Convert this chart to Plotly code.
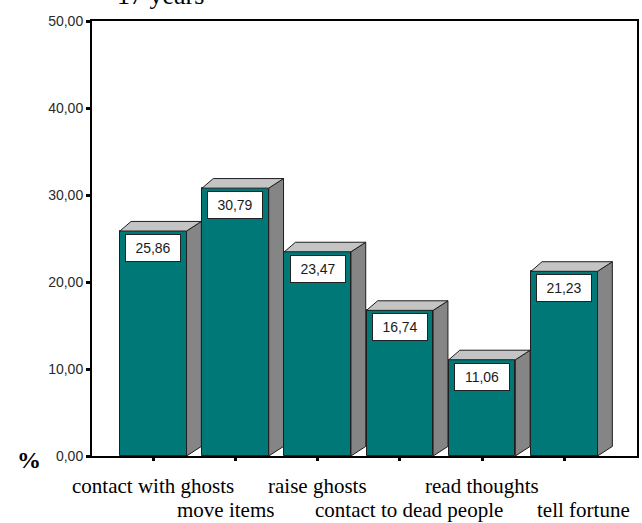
import plotly.graph_objects as go

# Data
categories = ["contact with ghosts", "move items", "raise ghosts",
              "contact to dead people", "read thoughts", "tell fortune"]
percent = [25.86, 30.79, 23.47, 16.74, 11.06, 21.23]
y_tick_vals = [0, 10, 20, 30, 40, 50]
y_tick_text = ["0,00", "10,00", "20,00", "30,00", "40,00", "50,00"]
title_text = "17 years"
unit_text = "%"

# Styling
TEAL = "#007878"
SIDE = "#858585"
TOP = "#c4c4c4"
EDGE = "#1e1e1e"
BAR_W = 0.81      # front face width (category units)
DX_R = 0.18       # depth offset of the right edge
DX_L = 0.135      # depth offset of the left edge
DY = 1.1          # depth rise (value units)
label_shift = [0, -10, 0, 9, 0, 19]   # pixel nudges for the category labels
label_row = [0, 1, 0, 1, 0, 1]

W, H = 642, 523
ML, MR, MT, MB = 92, 3, 21, 67
PW, PH = W - ML - MR, H - MT - MB


def px_to_paper_x(px):
    return (px - ML) / PW


def px_to_paper_y(py):
    return (H - MB - py) / PH


xs = list(range(len(categories)))

# 3D side and top faces computed from the bar values
side_x, side_y, top_x, top_y = [], [], [], []
for i, v in zip(xs, percent):
    xl, xr = i - BAR_W / 2, i + BAR_W / 2
    side_x += [xr, xr, xr + DX_R, xr + DX_R, xr, None]
    side_y += [0, v, v + DY, DY, 0, None]
    top_x += [xl, xl + DX_L, xr + DX_R, xr, xl, None]
    top_y += [v, v + DY, v + DY, v, v, None]

fig = go.Figure()
fig.add_trace(go.Scatter(x=side_x, y=side_y, mode="lines", fill="toself",
                         fillcolor=SIDE, line=dict(color=EDGE, width=1),
                         hoverinfo="skip", showlegend=False))
fig.add_trace(go.Scatter(x=top_x, y=top_y, mode="lines", fill="toself",
                         fillcolor=TOP, line=dict(color=EDGE, width=1),
                         hoverinfo="skip", showlegend=False))
fig.add_trace(go.Bar(x=xs, y=percent, width=BAR_W,
                     marker=dict(color=TEAL, line=dict(color=EDGE, width=1)),
                     showlegend=False, hovertext=categories))

annotations = []
# value boxes
for i, v in zip(xs, percent):
    annotations.append(dict(
        x=i, y=v, xref="x", yref="y", yanchor="top", yshift=-3,
        text=f"{v:.2f}".replace(".", ","), showarrow=False,
        font=dict(family="Liberation Sans, Arial", size=14, color="#1a1a1a"),
        bgcolor="white", bordercolor="#222", borderwidth=1, borderpad=5,
        width=44))

# staggered category labels
row_y = [px_to_paper_y(486), px_to_paper_y(510)]
for i, (cat, r, s) in enumerate(zip(categories, label_row, label_shift)):
    annotations.append(dict(
        x=i, y=row_y[r], xref="x", yref="paper", yanchor="middle",
        xanchor="center", xshift=s, text=cat, showarrow=False,
        font=dict(family="Liberation Serif, Times New Roman", size=21,
                  color="black")))

annotations.append(dict(
    x=px_to_paper_x(29), y=px_to_paper_y(460), xref="paper", yref="paper",
    xanchor="center", yanchor="middle", text=f"<b>{unit_text}</b>",
    showarrow=False,
    font=dict(family="Liberation Serif, Times New Roman", size=24,
              color="black")))

annotations.append(dict(
    x=px_to_paper_x(161), y=px_to_paper_y(-5), xref="paper", yref="paper",
    xanchor="center", yanchor="middle", text=title_text, showarrow=False,
    font=dict(family="Liberation Serif, Times New Roman", size=26,
              color="black")))

fig.update_layout(
    width=W, height=H,
    margin=dict(l=ML, r=MR, t=MT, b=MB),
    paper_bgcolor="white", plot_bgcolor="white",
    bargap=0,
    annotations=annotations,
    xaxis=dict(range=[-0.745, 5.885], tickvals=xs, showticklabels=False,
               ticks="outside", ticklen=3, tickwidth=3, tickcolor="black",
               showline=True, linecolor="black", linewidth=2, mirror=True,
               showgrid=False, zeroline=False, fixedrange=True),
    yaxis=dict(range=[0, 50], tickvals=y_tick_vals, ticktext=y_tick_text,
               ticks="outside", ticklen=4, tickwidth=3, tickcolor="black",
               tickfont=dict(family="Liberation Sans, Arial", size=14,
                             color="#2a2a2a"),
               showline=True, linecolor="black", linewidth=2, mirror=True,
               showgrid=False, zeroline=False, fixedrange=True),
)

fig.write_html("out.html")
